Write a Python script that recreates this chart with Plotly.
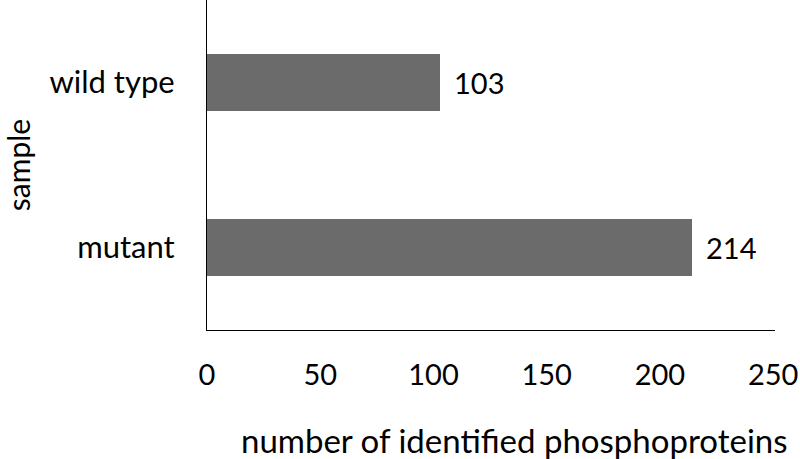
import plotly.graph_objects as go

categories = ["mutant", "wild type"]
values = [214, 103]
x_ticks = [0, 50, 100, 150, 200, 250]
x_title = "number of identified phosphoproteins"
y_title = "sample"

FONT = "Lato, Open Sans, sans-serif"
fsize = 29

fig = go.Figure(go.Bar(
    x=values, y=categories, orientation="h",
    marker=dict(color="#6b6b6b", line=dict(width=0)),
    width=0.35,
))

for v, c in zip(values, categories):
    fig.add_annotation(x=v, y=c, text=str(v), showarrow=False,
                       xanchor="left", xshift=12,
                       font=dict(family=FONT, size=fsize, color="black"))

fig.add_annotation(xref="paper", yref="paper", x=0.542, y=0, yshift=-110,
                   xanchor="center", yanchor="middle", showarrow=False,
                   text=x_title, font=dict(family=FONT, size=33, color="black"))

fig.update_layout(
    width=800, height=459,
    margin=dict(l=207, r=25, t=0, b=129, autoexpand=False),
    plot_bgcolor="white", paper_bgcolor="white",
    showlegend=False,
    font=dict(family=FONT, size=fsize, color="black"),
    bargap=0,
)
fig.update_xaxes(
    range=[0, 250.8], tickvals=x_ticks, showgrid=False, zeroline=False,
    showline=True, linecolor="black", linewidth=1.3,
    ticks="", ticklabelstandoff=19, automargin=False,
)
fig.update_yaxes(
    categoryorder="array", categoryarray=categories, range=[-0.5, 1.5],
    showgrid=False, zeroline=False, automargin=False,
    showline=True, linecolor="black", linewidth=1.3,
    ticks="", ticklabelstandoff=25,
    tickfont=dict(size=31),
    title=dict(text=y_title, standoff=39, font=dict(size=30)),
)

fig.write_html("out.html", config={"displayModeBar": False},
               post_script="document.body.style.margin='0';document.body.style.overflow='hidden';")
